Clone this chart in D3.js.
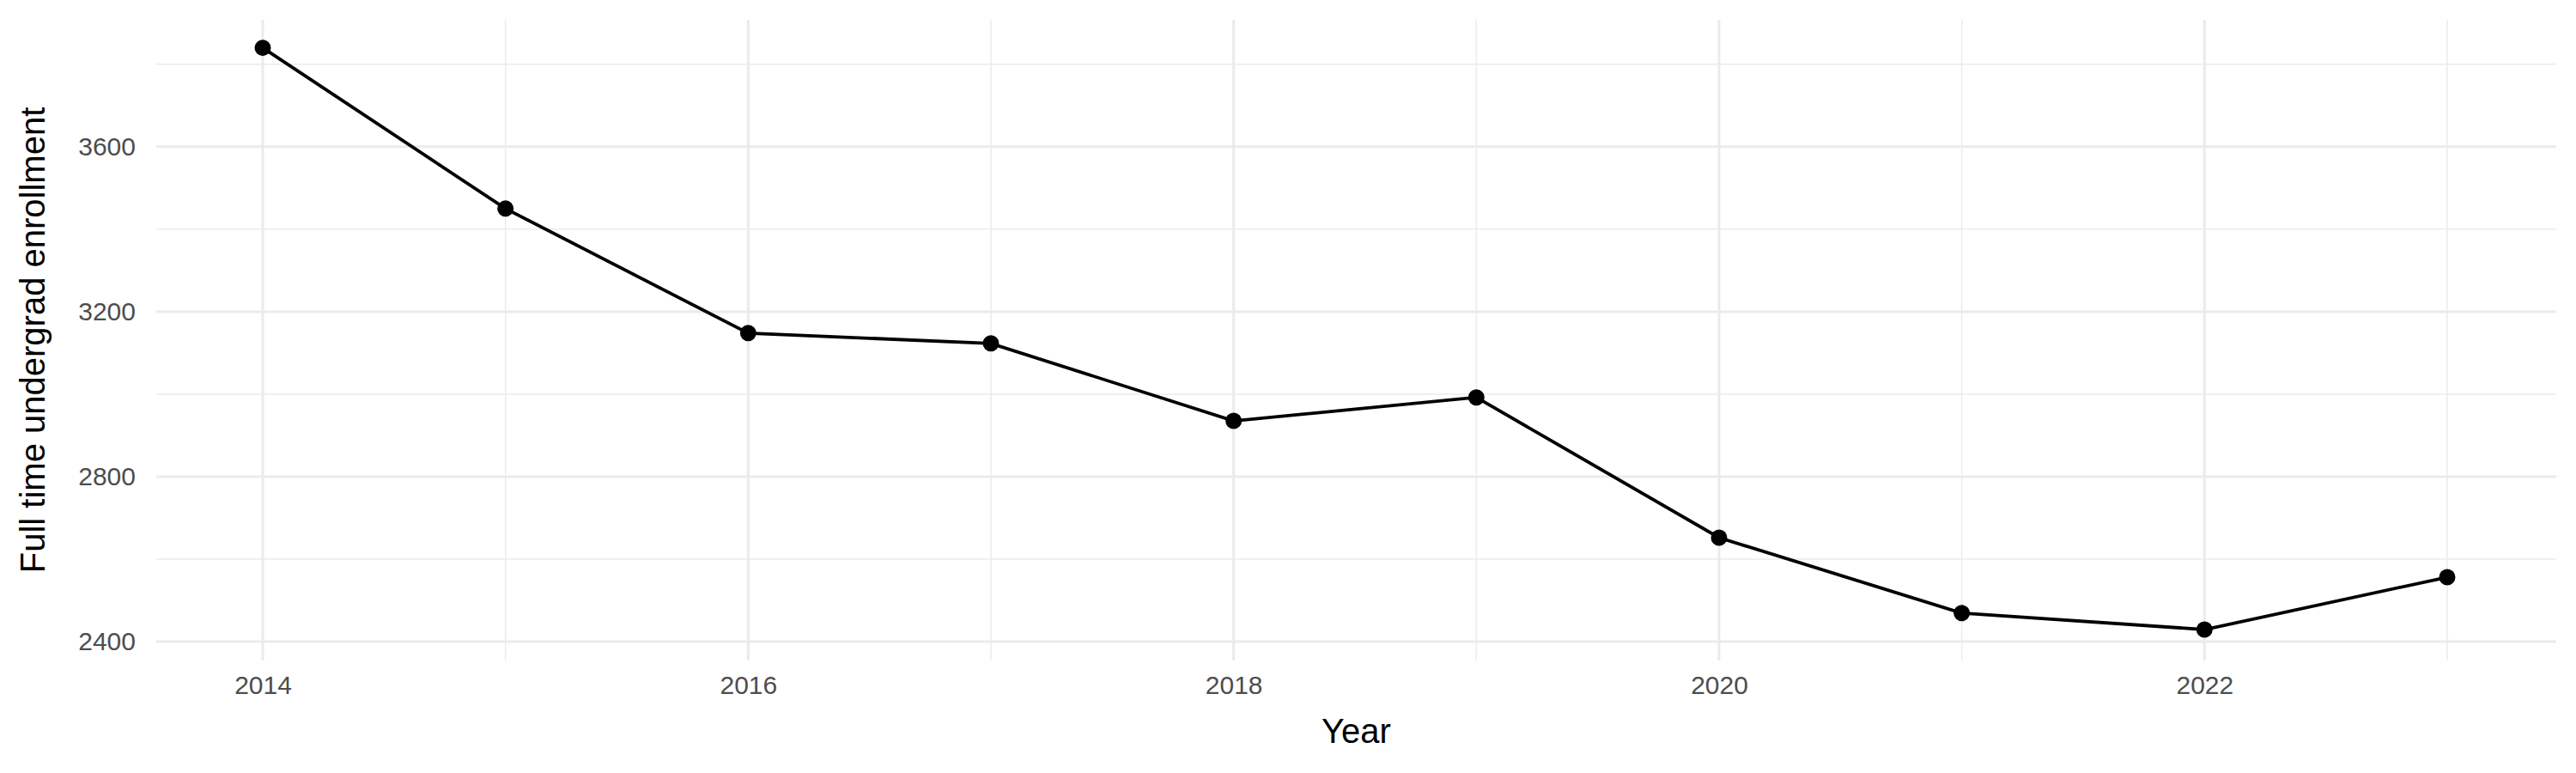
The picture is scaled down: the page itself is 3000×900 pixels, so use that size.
<!DOCTYPE html>
<html><head><meta charset="utf-8">
<script src="https://cdn.jsdelivr.net/npm/d3@7"></script>
<style>body{margin:0;background:#fff}</style></head>
<body><svg id="c" width="3000" height="900"></svg>
<script>
const years = [2014,2015,2016,2017,2018,2019,2020,2021,2022,2023];
const enrollment = [3840,3450,3148,3123,2935,2992,2652,2469,2429,2556];
const yTicks = [2400,2800,3200,3600];
const xTicks = [2014,2016,2018,2020,2022];
const yMinor = [2600,3000,3400,3800];
const xMinor = [2015,2017,2019,2021,2023];

const svg = d3.select("#c");
const L=182,R=2977,T=23,B=769;
const per=(2850-306)/9;
const x = d3.scaleLinear().domain([2014-(306-L)/per, 2023+(R-2850)/per]).range([L,R]);
const y = d3.scaleLinear().domain([2354,3908]).range([B,T]);

const g = svg.append("g");
g.selectAll(".ym").data(yMinor).join("line").attr("x1",L).attr("x2",R)
 .attr("y1",d=>y(d)).attr("y2",d=>y(d)).attr("stroke","#ebebeb").attr("stroke-width",1.5);
g.selectAll(".xm").data(xMinor).join("line").attr("y1",T).attr("y2",B)
 .attr("x1",d=>x(d)).attr("x2",d=>x(d)).attr("stroke","#ebebeb").attr("stroke-width",1.5);
g.selectAll(".yM").data(yTicks).join("line").attr("x1",L).attr("x2",R)
 .attr("y1",d=>y(d)).attr("y2",d=>y(d)).attr("stroke","#ebebeb").attr("stroke-width",3);
g.selectAll(".xM").data(xTicks).join("line").attr("y1",T).attr("y2",B)
 .attr("x1",d=>x(d)).attr("x2",d=>x(d)).attr("stroke","#ebebeb").attr("stroke-width",3);

const font="Liberation Sans, Arial, sans-serif";
const ya = d3.axisLeft(y).tickValues(yTicks).tickFormat(d3.format("d")).tickSize(0).tickPadding(24);
const yg = svg.append("g").attr("transform",`translate(${L},0)`).call(ya);
const xa = d3.axisBottom(x).tickValues(xTicks).tickFormat(d3.format("d")).tickSize(0).tickPadding(18);
const xg = svg.append("g").attr("transform",`translate(0,${B})`).call(xa);
[yg,xg].forEach(a=>{a.select(".domain").remove();
 a.selectAll("text").attr("fill","#4d4d4d").style("font-family",font).style("font-size","30px");});

const data = years.map((d,i)=>({x:d,y:enrollment[i]}));
svg.append("path").datum(data).attr("fill","none").attr("stroke","#000").attr("stroke-width",3.8)
 .attr("d",d3.line().x(d=>x(d.x)).y(d=>y(d.y)));
svg.selectAll(".pt").data(data).join("circle").attr("cx",d=>x(d.x)).attr("cy",d=>y(d.y)).attr("r",9.5).attr("fill","#000");

svg.append("text").attr("x",(L+R)/2).attr("y",865).attr("text-anchor","middle")
 .style("font-family",font).style("font-size","40px").text("Year");
svg.append("text").attr("transform",`translate(52,${(T+B)/2}) rotate(-90)`).attr("text-anchor","middle")
 .style("font-family",font).style("font-size","40px").text("Full time undergrad enrollment");
</script></body></html>
